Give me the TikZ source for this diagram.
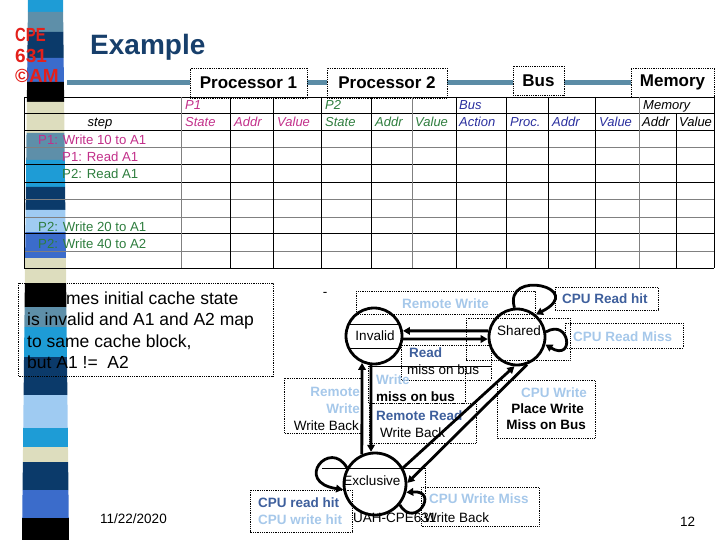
\documentclass[tikz,border=0pt]{standalone}
\usepackage{fontspec}
\usepackage{graphicx}
\setmainfont{Liberation Sans}
\usetikzlibrary{arrows.meta}
\definecolor{lblue}{HTML}{A6C8EA}
\definecolor{dblue}{HTML}{3E5F9C}
\definecolor{titleblue}{HTML}{173F6B}
\definecolor{barblue}{HTML}{5B8CA6}
\definecolor{pmag}{HTML}{C2308A}
\definecolor{pgreen}{HTML}{2E7D3E}
\definecolor{pblue}{HTML}{2A2F9E}
\definecolor{cpered}{HTML}{E3201B}
\definecolor{scyan}{HTML}{1E9CD6}
\definecolor{ssteel}{HTML}{5E8FA9}
\definecolor{snavy}{HTML}{0B3A6A}
\definecolor{sroyal}{HTML}{3B6CCB}
\definecolor{sbeige}{HTML}{DDDDBE}
\definecolor{slight}{HTML}{9FCBF2}
\begin{document}
\begin{tikzpicture}[x=1pt,y=-1pt,
  t/.style={inner sep=0pt, font=\fontsize{13.5}{16}\selectfont},
  tb/.style={inner sep=0pt, font=\fontsize{13.5}{16}\selectfont\bfseries},
  hd/.style={inner sep=0pt, anchor=base west, font=\fontsize{13}{15}\selectfont\itshape},
  rw/.style={inner sep=0pt, anchor=base west, font=\fontsize{13.2}{15}\selectfont},
  lbox/.style={draw, line width=0.7pt, dash pattern=on 0.7pt off 1.1pt},
  sbox/.style={draw, line width=0.6pt},
  stt/.style={circle, draw, line width=2.8pt, minimum size=56pt, inner sep=0pt},
  arr/.style={line width=2.8pt, -{Triangle[length=7pt,width=7.5pt]}},
  ttl/.style={lbox, fill=white, font=\fontsize{17}{20}\selectfont\bfseries, inner sep=0pt},
]
\useasboundingbox (0,0) rectangle (720,540);
% left stripe
\foreach \ya/\yb/\c in {0/12/scyan,12/32/ssteel,32/58/snavy,58/82/sroyal,82/102/black,102/133/sbeige,133/160/ssteel,160/187/scyan,187/210/snavy,210/232/slight,232/258/sroyal,258/283/sbeige,283/307/black,307/327/ssteel,327/357/scyan,357/395/snavy,395/428/slight,428/447/scyan,447/462/sbeige,462/490/snavy,490/518/sroyal,518/540/black}
  \fill[color=\c] ({28-6*\ya/540},\ya) -- ({63+6*\ya/540},\ya) -- ({63+6*\yb/540},\yb) -- ({28-6*\yb/540},\yb) -- cycle;
% red logo
\node[anchor=base west, text=cpered, font=\fontsize{19}{20}\selectfont\bfseries, inner sep=0pt] (cpe) at (15,42) {\scalebox{0.78}[1]{CPE}};
\node[anchor=base west, text=cpered, font=\fontsize{19}{20}\selectfont\bfseries, inner sep=0pt] (n631) at (15,63) {631};
\node[anchor=base west, text=cpered, font=\fontsize{19}{20}\selectfont\bfseries, inner sep=0pt] (cam) at (15,83) {©AM};
% title
\node[anchor=base west, font=\fontsize{28}{30}\selectfont\bfseries, text=titleblue, inner sep=0pt] (title) at (90,55) {Example};
\draw[barblue, line width=5pt] (67,82.5) -- (713,82.5);
\node[ttl, minimum width=117pt, minimum height=30pt] (tp1) at (248.5,83) {Processor 1};
\node[ttl, minimum width=120pt, minimum height=30pt] (tp2) at (387,83) {Processor 2};
\node[ttl, minimum width=51pt, minimum height=29pt] (tbus) at (538.5,80.5) {Bus};
\node[ttl, minimum width=83pt, minimum height=29pt] (tmem) at (672.5,82.5) {Memory};
% table
\foreach \y/\c in {97/black,113/black,130/black,147/gray,164/black,182/black,199/gray,217/gray,233/black,251/gray,268/black}
  \draw[color=\c, line width=0.9pt] (24,\y) -- (714,\y);
\foreach \x/\c in {24/black,181/gray,230/black,273/black,321/black,371/black,412/gray,456/black,506/black,548/black,595/black,639/gray,714/black}
  \draw[color=\c, line width=0.9pt] (\x,97) -- (\x,268);
\draw[line width=0.9pt] (676,113) -- (676,268);
% header texts
\node[hd, text=pmag] (hp1) at (185,110) {P1};
\node[hd, text=pgreen] (hp2) at (325,110) {P2};
\node[hd, text=pblue] (hbus) at (459,110) {Bus};
\node[hd] (hmem) at (643,110) {Memory};
\node[hd, anchor=base] (hstep) at (100,127) {step};
\node[hd, text=pmag] (h1) at (185,127) {State};
\node[hd, text=pmag] (h2) at (234,127) {Addr};
\node[hd, text=pmag] (h3) at (277,127) {Value};
\node[hd, text=pgreen] (h4) at (325,127) {State};
\node[hd, text=pgreen] (h5) at (375,127) {Addr};
\node[hd, text=pgreen] (h6) at (415,127) {Value};
\node[hd, text=pblue] (h7) at (459,127) {Action};
\node[hd, text=pblue] (h8) at (510,127) {Proc.};
\node[hd, text=pblue] (h9) at (552,127) {Addr};
\node[hd, text=pblue] (h10) at (599,127) {Value};
\node[hd] (h11) at (642,127) {Addr};
\node[hd] (h12) at (679,127) {Value};
% step rows
\node[rw, text=pmag] (r1) at (38,145) {P1: Write 10 to A1};
\node[rw, text=pmag] (r2) at (62,162) {P1: Read A1};
\node[rw, text=pgreen] (r3) at (62,179) {P2: Read A1};
\node[rw, text=pgreen] (r4) at (38,231) {P2: Write 20 to A1};
\node[rw, text=pgreen] (r5) at (38,248) {P2: Write 40 to A2};
% assumption box
\draw[lbox] (18,283) rectangle (273,376);
\node[anchor=north west, align=left, inner sep=0pt, font=\fontsize{17.5}{21.5}\selectfont] (assume) at (27,291.5) {Assumes initial cache state\\is invalid and A1 and A2 map\\to same cache block,\\but A1 != \ A2};
\node[t] (dash) at (325,294) {-};
% label boxes
\draw[lbox] (356,291) rectangle (535,314);
\node[tb, anchor=base west, text=lblue] (lrw) at (402,308) {Remote Write};
\draw[lbox] (555,287) rectangle (658,310);
\node[tb, anchor=base west, text=dblue] (lcrh) at (562,303) {CPU Read hit};
\draw[lbox] (565,323) rectangle (683,348);
\node[tb, anchor=base west, text=lblue] (lcrm) at (573,341) {CPU Read Miss};
\draw[lbox] (466,318) rectangle (570,360);
\draw[sbox] (348,324) -- (401,324) (348,348) -- (401,348);
\draw[lbox] (401,345) rectangle (491,380);
\node[tb, anchor=base west, text=dblue] (lread) at (409,357) {Read};
\node[t, anchor=base west] (lmiss) at (407,374) {miss on bus};
\draw[sbox] (368,366) -- (491,366);
\draw[lbox] (368,366) rectangle (465,403);
\node[tb, anchor=base west, text=lblue] (lwr) at (376,384) {Write};
\node[tb, anchor=base west] (lmiss2) at (376,401) {miss on bus};
\draw[lbox] (284,378) rectangle (362,433);
\node[tb, anchor=base east, text=lblue] (lrem) at (360,396) {Remote};
\node[tb, anchor=base east, text=lblue] (lrem2) at (360,413) {Write};
\node[t, anchor=base east] (lwb1) at (359,430) {Write Back};
\draw[lbox] (369,403) rectangle (476,443);
\node[tb, anchor=base west, text=dblue] (lrr) at (376,420) {Remote Read};
\node[t, anchor=base west] (lwb2) at (380,437) {Write Back};
\draw[lbox] (497,380) rectangle (595,438);
\node[tb, anchor=base east, text=lblue] (lcw) at (587,397) {CPU Write};
\node[tb, anchor=base east] (lpw) at (584,413) {Place Write};
\node[tb, anchor=base east] (lmb) at (586,429) {Miss on Bus};
\draw[sbox] (322,468) -- (425,468);
\draw[lbox] (425,468) -- (425,495);
\draw[lbox] (250,490) rectangle (352,532);
\node[tb, anchor=base west, text=dblue] (lerh) at (258,507) {CPU read hit};
\node[tb, anchor=base west, text=lblue] (lewh) at (258,524) {CPU write hit};
\draw[lbox] (421,487) rectangle (539,526);
\node[tb, anchor=base west, text=lblue] (lcwm) at (429,503) {CPU Write Miss};
\node[t, anchor=base west] (lwb3) at (424,522) {Write Back};
% footer
\node[t, anchor=base west] (foot) at (353,522) {UAH-CPE631};
\node[t, anchor=base west] (date) at (100,523) {11/22/2020};
\node[t, anchor=base west] (pg) at (680,526) {12};
% states
\node[stt] (inv) at (374,336) {};
\node[stt] (sh) at (517,337) {};
\node[stt, minimum size=62pt] (ex) at (375,484) {};
\node[t] (linv) at (375,336) {Invalid};
\node[t] (lsh) at (519,331) {Shared};
\node[t] (lex) at (372,481) {Exclusive};
% transitions
\draw[arr] (sh.168) -- (inv.10);
\draw[arr] (inv.-6) -- (sh.184);
\draw[arr] (ex.114) -- (inv.246);
\draw[arr] (inv.264) -- (ex.97);
\draw[arr] (ex.30) -- (sh.265);
\draw[arr] (sh.290) -- (ex.2);
\draw[arr] (sh.95) .. controls (503,268) and (588,288) .. (sh.50);
\draw[arr] (sh.10) .. controls (570,318) and (575,362) .. (sh.-15);
\draw[arr] (ex.150) .. controls (330,438) and (293,482) .. (ex.190);
\draw[arr] (ex.-40) .. controls (415,530) and (440,490) .. (ex.-15);
\end{tikzpicture}
\end{document}
